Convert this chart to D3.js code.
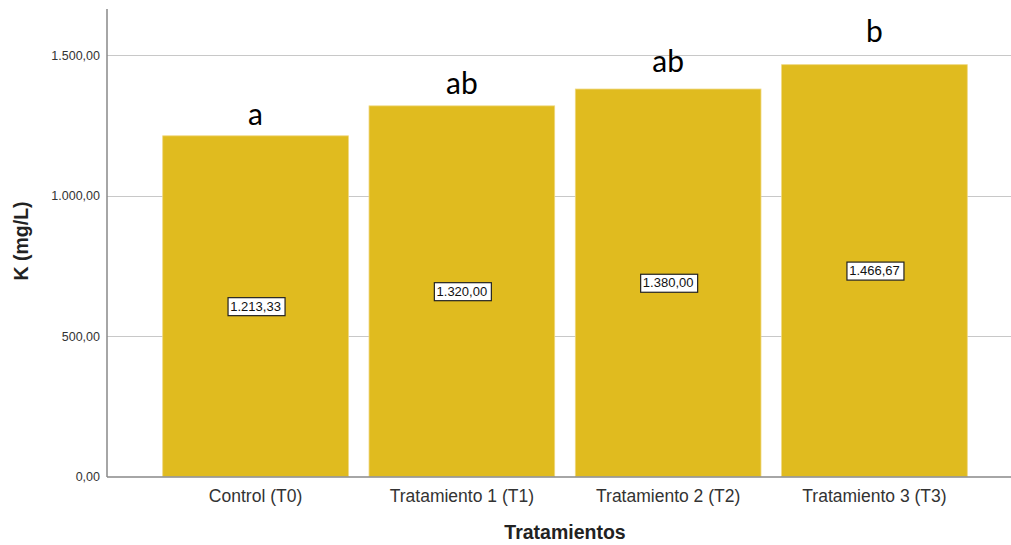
<!DOCTYPE html>
<html><head><meta charset="utf-8">
<script src="https://cdn.jsdelivr.net/npm/d3@7"></script>
<style>body{margin:0;background:#fff}svg{display:block}</style>
</head><body>
<svg id="c" width="1011" height="545"></svg>
<script>
const categories = ["Control (T0)", "Tratamiento 1 (T1)", "Tratamiento 2 (T2)", "Tratamiento 3 (T3)"];
const values = [1213.33, 1320.00, 1380.00, 1466.67];
const valueLabels = ["1.213,33", "1.320,00", "1.380,00", "1.466,67"];
const letters = ["a", "ab", "ab", "b"];
const letterAnchors = [1252, 1363, 1441, 1548];
const yTicks = [0, 500, 1000, 1500];
const yTickLabels = ["0,00", "500,00", "1.000,00", "1.500,00"];

const svg = d3.select("#c");
const x0 = 107, x1 = 1011, yBase = 476.5, yTop = 9;
const y = d3.scaleLinear().domain([0, 1665]).range([yBase, yTop]);
const x = d3.scaleBand().domain(categories).range([152.4, 977.6]).paddingInner(0.1).paddingOuter(0.05);
const FF = "'Liberation Sans', Arial, sans-serif";

svg.append("g").selectAll("line").data(yTicks.filter(d => d > 0)).join("line")
  .attr("x1", x0).attr("x2", x1).attr("y1", d => Math.round(y(d)) + 0.5).attr("y2", d => Math.round(y(d)) + 0.5)
  .attr("stroke", "#c8c8c8").attr("stroke-width", 1.2);

svg.append("g").selectAll("rect").data(values).join("rect")
  .attr("x", (d, i) => x(categories[i])).attr("width", x.bandwidth())
  .attr("y", d => y(d)).attr("height", d => yBase - y(d))
  .attr("fill", "#E0BB1F").attr("stroke", "#EFD77E").attr("stroke-width", 0.8);

svg.append("line").attr("x1", x0).attr("x2", x0).attr("y1", yTop).attr("y2", yBase + 0.5)
  .attr("stroke", "#888").attr("stroke-width", 1.5);
svg.append("line").attr("x1", x0).attr("x2", x1).attr("y1", yBase + 0.5).attr("y2", yBase + 0.5)
  .attr("stroke", "#888").attr("stroke-width", 1.3);

svg.append("g").selectAll("text").data(yTicks).join("text")
  .attr("x", 100).attr("y", d => y(d)).attr("dy", "0.36em")
  .attr("text-anchor", "end").attr("font-family", FF)
  .attr("font-size", 12.5).attr("fill", "#333").text((d, i) => yTickLabels[i]);

svg.append("g").selectAll("text").data(categories).join("text")
  .attr("x", d => x(d) + x.bandwidth() / 2).attr("y", 502)
  .attr("text-anchor", "middle").attr("font-family", FF)
  .attr("font-size", 17.5).attr("fill", "#333").text(d => d);

svg.append("text").attr("x", 565).attr("y", 539).attr("text-anchor", "middle")
  .attr("font-family", FF).attr("font-weight", "bold")
  .attr("font-size", 19.5).attr("fill", "#222").text("Tratamientos");
svg.append("text").attr("transform", "translate(28,241) rotate(-90)").attr("text-anchor", "middle")
  .attr("font-family", FF).attr("font-weight", "bold")
  .attr("font-size", 19.5).attr("fill", "#222").text("K (mg/L)");

const lg = svg.append("g").selectAll("g").data(values).join("g")
  .attr("transform", (d, i) => `translate(${x(categories[i]) + x.bandwidth() / 2},${y(d / 2)})`);
lg.append("text").attr("text-anchor", "middle").attr("dy", "0.36em")
  .attr("font-family", FF).attr("font-size", 13).attr("fill", "#111")
  .text((d, i) => valueLabels[i]);
lg.each(function() {
  const g = d3.select(this); const b = g.select("text").node().getBBox();
  g.insert("rect", "text").attr("x", Math.round(b.x - 3) + 0.5).attr("y", Math.round(b.y) - 1.5)
    .attr("width", Math.round(b.width + 6)).attr("height", Math.round(b.height + 3))
    .attr("fill", "#fff").attr("stroke", "#222").attr("stroke-width", 1.2);
});

svg.append("g").selectAll("text").data(letters).join("text")
  .attr("x", (d, i) => x(categories[i]) + x.bandwidth() / 2).attr("y", (d, i) => y(letterAnchors[i]))
  .attr("text-anchor", "middle").attr("font-family", "Lato, 'Open Sans', sans-serif")
  .attr("font-size", 30).attr("fill", "#000").text(d => d);
</script>
</body></html>
